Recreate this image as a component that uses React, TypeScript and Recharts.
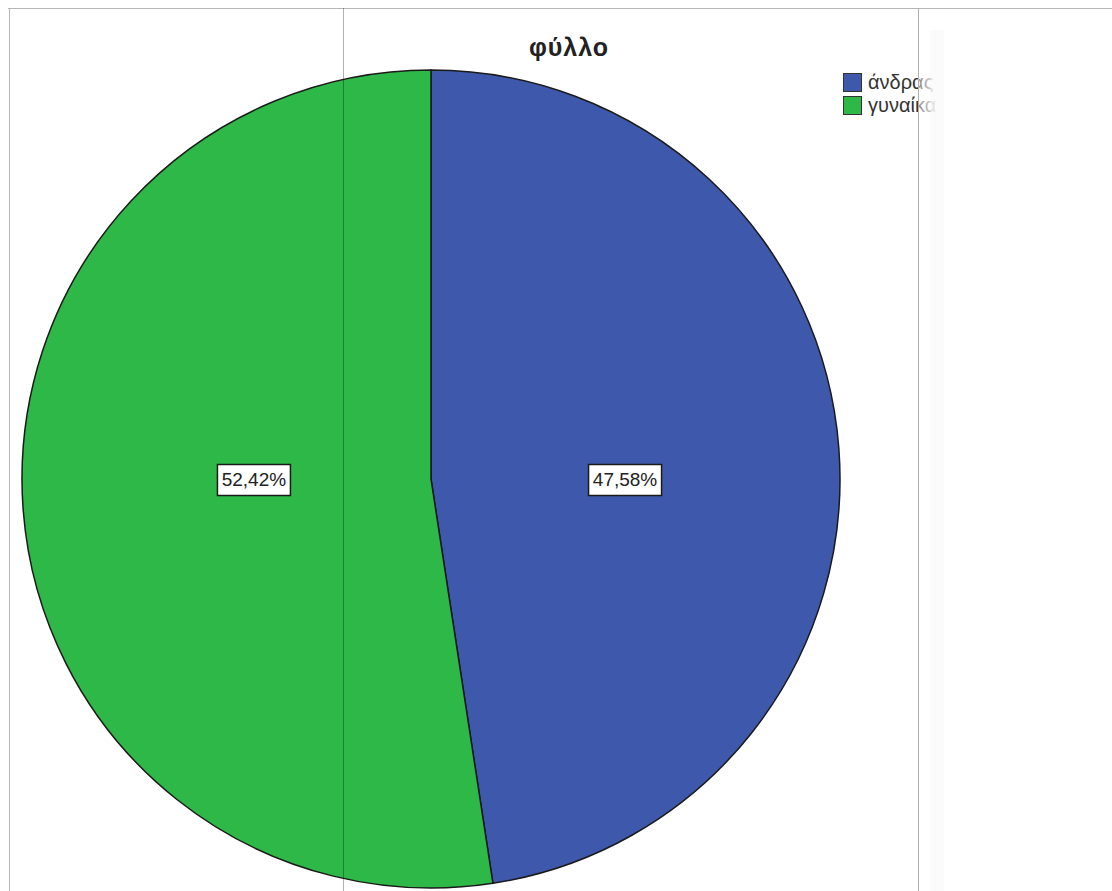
import React from 'react';
import { PieChart, Pie, Cell, Legend } from 'recharts';

const categories = ['άνδρας', 'γυναίκα'];
const percents = [47.58, 52.42];
const colors = ['#3E58AC', '#2EB848'];
const title = 'φύλλο';

const data = categories.map((name, i) => ({ name, value: percents[i] }));

const W = 1112;
const H = 891;
const FONT = '"Liberation Sans", Arial, sans-serif';
const RAD = Math.PI / 180;

const renderLabel = (props: any) => {
  const { cx, cy, midAngle, outerRadius, value } = props;
  const x = cx + outerRadius * 0.455 * Math.cos(-midAngle * RAD) + 8.5;
  const y = cy + 1;
  const text = value.toFixed(2).replace('.', ',') + '%';
  const w = 73;
  const h = 31;
  return (
    <g>
      <rect x={x - w / 2} y={y - h / 2} width={w} height={h} fill="#ffffff" stroke="#1a1a1a" strokeWidth={1.5} />
      <text x={x} y={y + 1} textAnchor="middle" dominantBaseline="middle" fontSize={19} fontFamily={FONT} fill="#222">
        {text}
      </text>
    </g>
  );
};

const renderLegend = (props: any) => {
  const { payload } = props;
  return (
    <div style={{ fontFamily: FONT, fontSize: 20, color: '#333', lineHeight: '23px' }}>
      {(payload || []).map((p: any, i: number) => (
        <div key={i} style={{ display: 'flex', alignItems: 'center', whiteSpace: 'nowrap', height: 23 }}>
          <span style={{ display: 'inline-block', width: 17, height: 17, background: p.color, border: '1px solid #333', marginRight: 6 }} />
          <span>{p.value}</span>
        </div>
      ))}
    </div>
  );
};

export default function App() {
  return (
    <div style={{ position: 'absolute', left: 0, top: 0, width: W, height: H, background: '#fff', overflow: 'hidden' }}>
      <PieChart width={W} height={H} margin={{ top: 0, right: 0, bottom: 0, left: 0 }}>
        <Pie
          data={data}
          dataKey="value"
          nameKey="name"
          cx={431}
          cy={479}
          outerRadius={409}
          startAngle={90}
          endAngle={-270}
          stroke="#1a1a1a"
          strokeWidth={1.5}
          label={renderLabel}
          labelLine={false}
          isAnimationActive={false}
        >
          {data.map((d, i) => (
            <Cell key={d.name} fill={colors[i]} />
          ))}
        </Pie>
        <Legend
          layout="vertical"
          content={renderLegend}
          wrapperStyle={{ position: 'absolute', left: 843, top: 71, width: 'auto' }}
        />
      </PieChart>
      <svg width={W} height={H} style={{ position: 'absolute', left: 0, top: 0, pointerEvents: 'none' }}>
        <defs>
          <linearGradient id="fade" x1="0" x2="1" y1="0" y2="0">
            <stop offset="0" stopColor="#ffffff" stopOpacity={0.45} />
            <stop offset="1" stopColor="#ffffff" stopOpacity={0.95} />
          </linearGradient>
        </defs>
        <rect x={919} y={9} width={20} height={H - 9} fill="url(#fade)" />
        <rect x={939} y={9} width={W - 939} height={H - 9} fill="#ffffff" opacity={0.95} />
        <rect x={930} y={30} width={14} height={H - 30} fill="#f3f3f3" opacity={0.35} />
        <line x1={8} y1={8.5} x2={W} y2={8.5} stroke="#b5b5b5" strokeWidth={1} />
        <line x1={9.5} y1={8} x2={9.5} y2={H} stroke="#b5b5b5" strokeWidth={1} />
        <line x1={343.5} y1={8} x2={343.5} y2={H} stroke="#000" strokeOpacity={0.3} strokeWidth={1} />
        <line x1={918.5} y1={8} x2={918.5} y2={H} stroke="#b0b0b0" strokeWidth={1} />
        <text x={569} y={56} textAnchor="middle" fontSize={25} fontWeight="bold" letterSpacing={1} fontFamily={FONT} fill="#222">
          {title}
        </text>
      </svg>
    </div>
  );
}
